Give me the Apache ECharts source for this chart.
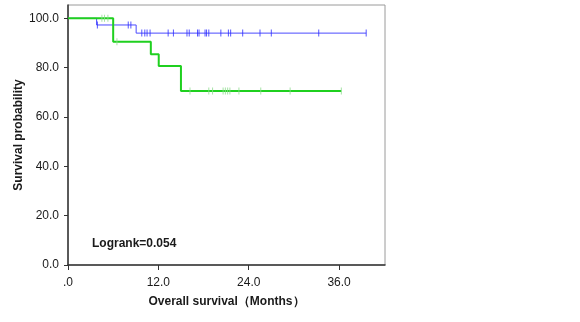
<!DOCTYPE html>
<html><head><meta charset="utf-8">
<script src="https://cdn.jsdelivr.net/npm/echarts@6/dist/echarts.min.js"></script>
<style>html,body{margin:0;padding:0;background:#fff}#c{width:580px;height:322px}</style>
</head><body><div id="c"></div>
<script>
// Kaplan-Meier step data (months, survival %)
var blueTimes = [0, 3.8, 9.05, 39.6];
var blueValues = [100, 97.3, 94.0, 94.0];
var greenTimes = [0, 6.0, 11.0, 12.05, 15.0, 36.3];
var greenValues = [100, 90.5, 85.4, 80.7, 70.5, 70.5];
// censor marks
var blueCensorTimes = [3.9, 8.0, 8.35, 9.8, 10.2, 10.5, 10.9, 13.3, 14.0, 15.8, 16.1, 17.2, 17.4, 18.2, 18.4, 18.7, 20.3, 21.3, 21.6, 23.2, 25.5, 27.0, 33.3, 39.6];
var blueCensorValues = [97.3, 97.3, 97.3, 94, 94, 94, 94, 94, 94, 94, 94, 94, 94, 94, 94, 94, 94, 94, 94, 94, 94, 94, 94, 94];
var greenCensorTimes = [4.5, 4.85, 5.3, 6.5, 16.2, 18.7, 19.2, 20.6, 20.9, 21.2, 21.5, 22.7, 25.6, 29.5, 36.3];
var greenCensorValues = [100, 100, 100, 90.5, 70.5, 70.5, 70.5, 70.5, 70.5, 70.5, 70.5, 70.5, 70.5, 70.5, 70.5];
var xTicks = [0, 12, 24, 36];
var xTickLabels = ['.0', '12.0', '24.0', '36.0'];
var yTicks = [0, 20, 40, 60, 80, 100];
var yTickLabels = ['0.0', '20.0', '40.0', '60.0', '80.0', '100.0'];
var annotation = 'Logrank=0.054';

function pairs(a, b) { return a.map(function (t, i) { return [t, b[i]]; }); }

var chart = echarts.init(document.getElementById('c'));
var font = 'Liberation Sans, Arial, sans-serif';
chart.setOption({
  animation: false,
  backgroundColor: '#fff',
  grid: { left: 68, right: 195, top: 5, bottom: 57, outerBoundsMode: 'none', containLabel: false, show: true, borderColor: '#9a9a9a', borderWidth: 1, backgroundColor: '#fff' },
  xAxis: {
    type: 'value', min: 0, max: 42.1,
    name: 'Overall survival（Months）', nameLocation: 'middle', nameGap: 31, nameMoveOverlap: false,
    nameTextStyle: { fontFamily: font, fontSize: 12, fontWeight: 'bold', color: '#1a1a1a' },
    axisLine: { show: true, onZero: false, lineStyle: { color: '#333', width: 1.5 } },
    axisTick: { show: true, length: 5, customValues: xTicks, lineStyle: { color: '#333' } },
    axisLabel: { customValues: xTicks, margin: 12, fontFamily: font, fontSize: 12, color: '#1a1a1a',
      formatter: function (v) { var i = xTicks.indexOf(v); return i >= 0 ? xTickLabels[i] : ''; } },
    splitLine: { show: false }
  },
  yAxis: {
    type: 'value', min: 0, max: 105.4,
    name: 'Survival probability', nameLocation: 'middle', nameGap: 43, nameMoveOverlap: false,
    nameTextStyle: { fontFamily: font, fontSize: 12, fontWeight: 'bold', color: '#1a1a1a' },
    axisLine: { show: true, onZero: false, lineStyle: { color: '#333', width: 1.5 } },
    axisTick: { show: true, length: 4, customValues: yTicks, lineStyle: { color: '#333' } },
    axisLabel: { customValues: yTicks, margin: 9, fontFamily: font, fontSize: 12, color: '#1a1a1a',
      formatter: function (v) { var i = yTicks.indexOf(v); return i >= 0 ? yTickLabels[i] : ''; } },
    splitLine: { show: false }
  },
  graphic: [{ type: 'text', left: 92, top: 238, style: { text: annotation, font: 'bold 12px ' + font, fill: '#1a1a1a' } }],
  series: [
    { type: 'line', step: 'end', data: pairs(blueTimes, blueValues), showSymbol: false, lineStyle: { color: '#4b4bff', width: 1 }, z: 2 },
    { type: 'scatter', data: pairs(blueCensorTimes, blueCensorValues), symbol: 'rect', symbolSize: [1, 7], itemStyle: { color: '#2a2aff' }, z: 3 },
    { type: 'line', step: 'end', data: pairs(greenTimes, greenValues), showSymbol: false, lineStyle: { color: '#1fd01f', width: 2 }, z: 4 },
    { type: 'scatter', data: pairs(greenCensorTimes, greenCensorValues), symbol: 'rect', symbolSize: [1, 7], itemStyle: { color: '#8fdc8f' }, z: 5 }
  ]
});
</script></body></html>
